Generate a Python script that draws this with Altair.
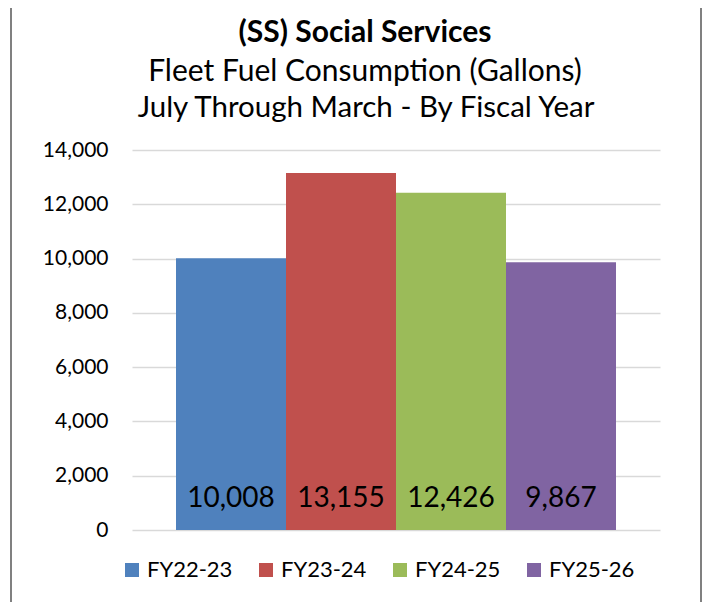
import altair as alt
import pandas as pd

years = ["FY22-23", "FY23-24", "FY24-25", "FY25-26"]
gallons = [10008, 13155, 12426, 9867]
colors = ["#4F81BD", "#C0504D", "#9BBB59", "#8064A2"]
y_ticks = [0, 2000, 4000, 6000, 8000, 10000, 12000, 14000]

title_lines = ["(SS) Social Services", "Fleet Fuel Consumption (Gallons)",
               "July Through March - By Fiscal Year"]

df = pd.DataFrame({"year": years, "gallons": gallons})

FONT = "Lato"

base = alt.Chart(df)

x_enc = alt.X("year:N", sort=years, axis=None,
              scale=alt.Scale(paddingInner=0, paddingOuter=0.4))
color_enc = alt.Color("year:N", sort=years,
                      scale=alt.Scale(domain=years, range=colors),
                      legend=alt.Legend(title=None, orient="none", legendX=-11, legendY=409,
                                        direction="horizontal", symbolType="square",
                                        symbolSize=196, symbolStrokeWidth=0,
                                        labelFontSize=22, labelFont=FONT, labelColor="#000000",
                                        columnPadding=22, labelOffset=4))

y_scale = alt.Scale(domain=[0, 14000], nice=False)
y_axis = alt.Axis(values=y_ticks, format=",d", title=None, domain=False, ticks=False,
                  labelPadding=24, labelFontSize=21, labelFont=FONT,
                  labelColor="#000000", grid=True, gridColor="#d9d9d9", gridWidth=1.5)

bars = base.mark_bar(size=110).encode(
    x=x_enc,
    y=alt.Y("gallons:Q", scale=y_scale, axis=y_axis),
    color=color_enc,
)

labels = base.mark_text(fontSize=28, font=FONT, color="#000000", baseline="middle", dy=-31).encode(
    x=x_enc,
    y=alt.Y(datum=0, scale=y_scale, axis=y_axis),
    text=alt.Text("gallons:Q", format=","),
)

tdf = pd.DataFrame({"t": title_lines, "i": [0, 1, 2]})
t_bold = alt.Chart(tdf).transform_filter(alt.datum.i == 0).mark_text(
    font=FONT, fontSize=30, fontWeight="bold", color="#000000", baseline="middle"
).encode(text="t:N", x=alt.value(233), y=alt.value(-117))
t_sub1 = alt.Chart(tdf).transform_filter(alt.datum.i == 1).mark_text(
    font=FONT, fontSize=30, color="#000000", baseline="middle"
).encode(text="t:N", x=alt.value(233), y=alt.value(-78))
t_sub2 = alt.Chart(tdf).transform_filter(alt.datum.i == 2).mark_text(
    font=FONT, fontSize=29.5, color="#000000", baseline="middle"
).encode(text="t:N", x=alt.value(234), y=alt.value(-42))

bdf = pd.DataFrame({"a": [0]})
bstyle = dict(stroke="#808080", strokeWidth=2)
b_left = alt.Chart(bdf).mark_rule(**bstyle).encode(x=alt.value(-121), y=alt.value(-144), y2=alt.value(460))
b_right = alt.Chart(bdf).mark_rule(**bstyle).encode(x=alt.value(569), y=alt.value(-144), y2=alt.value(460))
b_top = alt.Chart(bdf).mark_rule(**bstyle).encode(y=alt.value(-144), x=alt.value(-121), x2=alt.value(569))

chart = alt.layer(b_left, b_right, b_top, bars, labels, t_bold, t_sub1, t_sub2).properties(
    width=528, height=380,
    padding={"left": 124, "top": 142, "right": 43, "bottom": 72},
    autosize=alt.AutoSizeParams(type="none"),
).configure(background="white").configure_view(stroke="transparent", strokeWidth=0)

chart.save("out.html", embed_options={"renderer": "svg", "actions": False})
